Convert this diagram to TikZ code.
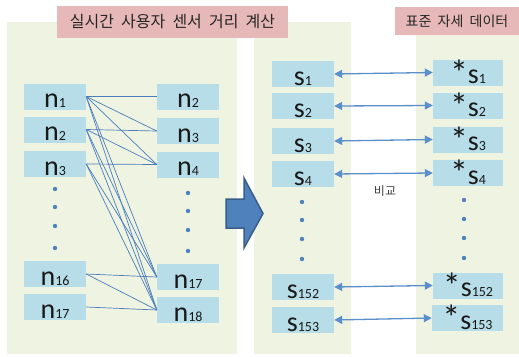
\documentclass[tikz,border=0pt]{standalone}
\usepackage{fontspec}
\usetikzlibrary{arrows.meta}
\newfontfamily\krfont[WordSpace=2]{Noto Sans CJK KR}
\newfontfamily\lblfont{Carlito}
\definecolor{panelgreen}{RGB}{238,243,226}
\definecolor{boxblue}{RGB}{183,222,232}
\definecolor{titlepink}{RGB}{230,185,184}
\definecolor{linkblue}{RGB}{74,126,187}
\definecolor{arrowfill}{RGB}{79,129,189}
\definecolor{arrowedge}{RGB}{56,93,138}
\definecolor{cmpblue}{RGB}{91,143,204}
\newcommand{\nlab}[2]{{\lblfont\fontsize{28}{28}\selectfont #1}{\lblfont\fontsize{14}{14}\selectfont #2}}
\newcommand{\slab}[2]{{\lblfont\fontsize{36}{36}\selectfont\raisebox{-1.5pt}{*}}{\lblfont\fontsize{28}{28}\selectfont #1}{\lblfont\fontsize{14}{14}\selectfont #2}}
\begin{document}
\begin{tikzpicture}[x=1pt,y=-1pt,
  panel/.style={fill=panelgreen},
  title/.style={rectangle, fill=titlepink, inner sep=0pt, text=black!85},
  nbox/.style={rectangle, fill=boxblue, minimum width=62pt, minimum height=26pt, inner sep=0pt, text height=22.5pt, text depth=0pt, text=black!90},
  sbox/.style={nbox, minimum width=62pt},
  tbox/.style={nbox, minimum width=70pt},
  conn/.style={draw=linkblue, line width=0.7pt},
  cmp/.style={draw=cmpblue, line width=1.3pt, {Triangle[length=8pt,width=8pt]}-{Triangle[length=8pt,width=8pt]}},
  dotc/.style={fill=arrowfill}
]
\useasboundingbox (0,0) rectangle (519,356);
% panels
\fill[panel] (7,22) rectangle (237,354);
\fill[panel] (254,22) rectangle (351,354);
\fill[panel] (416,22) rectangle (519,354);
% titles
\node[title, minimum width=231pt, minimum height=32pt] (t1) at (172.5,22) {\krfont\fontsize{16}{16}\selectfont 실시간 사용자 센서 거리 계산};
\node[title, minimum width=124pt, minimum height=28pt] (t2) at (457,21) {\krfont\fontsize{14}{14}\selectfont 표준 자세 데이터};
% left columns
\node[nbox] (L1) at (55,96.5) {\nlab{n}{1}};
\node[nbox] (L2) at (55,129.5) {\nlab{n}{2}};
\node[nbox] (L3) at (55,164) {\nlab{n}{3}};
\node[nbox] (L16) at (55,274) {\nlab{n}{16}};
\node[nbox] (L17) at (55,307) {\nlab{n}{17}};
\node[nbox] (R2) at (188,96.5) {\nlab{n}{2}};
\node[nbox] (R3) at (188,131) {\nlab{n}{3}};
\node[nbox] (R4) at (188,164.5) {\nlab{n}{4}};
\node[nbox] (R17) at (188,277) {\nlab{n}{17}};
\node[nbox] (R18) at (188,310) {\nlab{n}{18}};
\foreach \y in {189,207,226,248} \fill[dotc] (55,\y) circle (2.2pt);
\foreach \y in {193,211,230,251} \fill[dotc] (188,\y) circle (2.2pt);
% connections
\foreach \t in {R2,R3,R4,R17,R18} \draw[conn] (L1.east) -- (\t.west);
\foreach \t in {R3,R4,R17,R18} \draw[conn] (L2.east) -- (\t.west);
\foreach \t in {R4,R17,R18} \draw[conn] (L3.east) -- (\t.west);
\foreach \t in {R17,R18} \draw[conn] (L16.east) -- (\t.west);
\draw[conn] (L17.east) -- (R18.west);
% big arrow
\draw[fill=arrowfill, draw=arrowedge, line width=1.5pt, line join=miter]
  (226,199) -- (244,199) -- (244,178) -- (263,213.5) -- (244,248) -- (244,228) -- (226,228) -- cycle;
% s columns
\node[sbox] (S1) at (303,74) {\nlab{s}{1}};
\node[sbox] (S2) at (303,106) {\nlab{s}{2}};
\node[sbox] (S3) at (303,141) {\nlab{s}{3}};
\node[sbox] (S4) at (303,174) {\nlab{s}{4}};
\node[sbox] (S152) at (303,287) {\nlab{s}{152}};
\node[sbox] (S153) at (303,320) {\nlab{s}{153}};
\node[tbox] (T1) at (468,72.5) {\slab{s}{1}};
\node[tbox] (T2) at (468,105.5) {\slab{s}{2}};
\node[tbox] (T3) at (468,139.5) {\slab{s}{3}};
\node[tbox] (T4) at (468,173) {\slab{s}{4}};
\node[tbox] (T152) at (468,285.5) {\slab{s}{152}};
\node[tbox, minimum width=71pt] (T153) at (467.5,318) {\slab{s}{153}};
\foreach \y in {202,220,239,259} \fill[dotc] (302,\y) circle (2.2pt);
\foreach \y in {200,219,238,258} \fill[dotc] (464,\y) circle (2.2pt);
\foreach \k in {1,2,3,4,152,153} \draw[cmp] (S\k.east) -- (T\k.west);
\node[text=black!75] (cmpl) at (385,191) {\krfont\fontsize{12}{12}\selectfont 비교};
\end{tikzpicture}
\end{document}
